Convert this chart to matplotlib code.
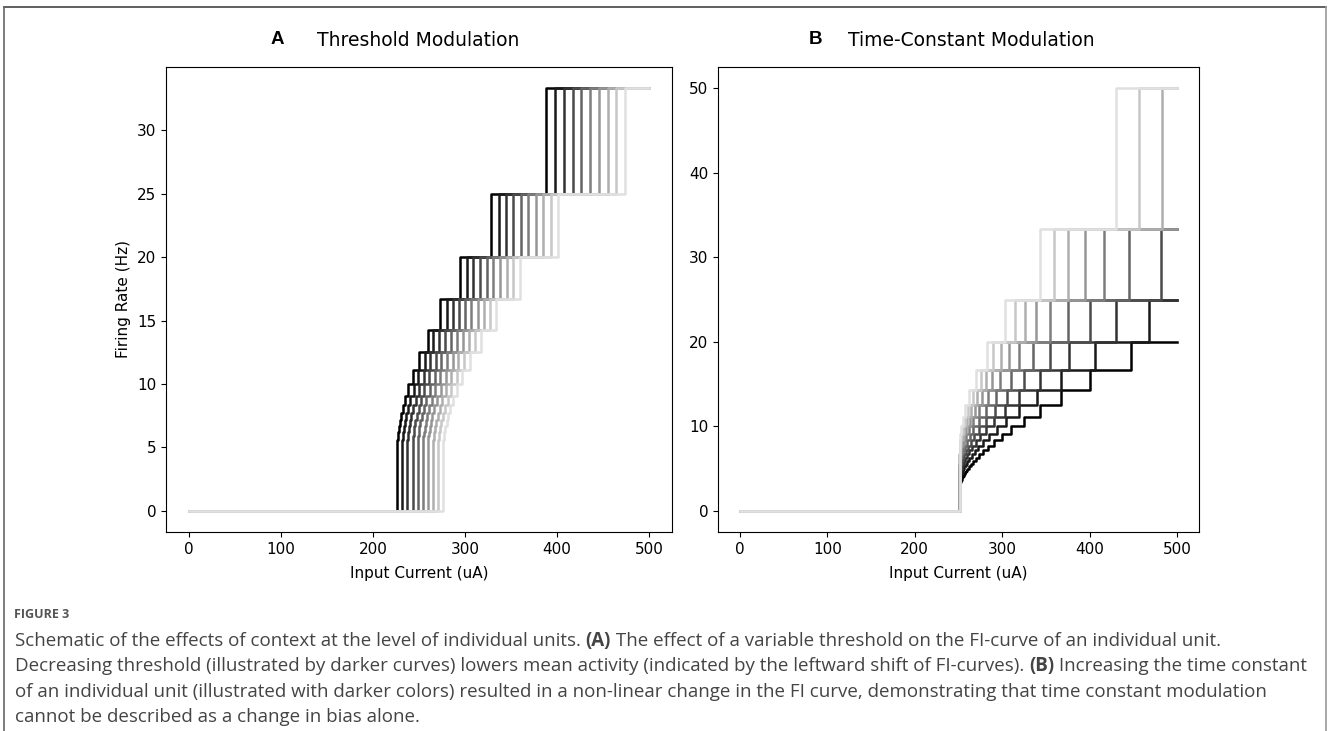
import matplotlib.pyplot as plt
from matplotlib.lines import Line2D

W, H = 1330, 731

# firing-rate levels (Hz) of the step curves
levels_a = [33.33, 25.0, 20.0, 16.67, 14.29, 12.5, 11.11, 10.0, 9.09, 8.33, 7.69, 7.14, 6.67, 6.25, 5.88, 5.56]
levels_b = [50.0, 33.33, 25.0, 20.0, 16.67, 14.29, 12.5, 11.11, 10.0, 9.09, 8.33, 7.69, 7.14, 6.67, 6.25, 5.88,
            5.56, 5.26, 5.0, 4.76, 4.55, 4.35, 4.17, 4.0, 3.85, 3.7, 3.57, 3.45, 3.33, 3.23, 3.13, 3.03, 2.94]

# A: input current (uA) where each level starts, one row per threshold (low -> high)
onsets_a = [
    [388.1, 328.3, 294.4, 273.2, 259.3, 249.7, 243.0, 238.2, 234.8, 232.2, 230.4, 229.0, 228.0, 227.2, 226.7, 226.2],
    [397.7, 336.5, 301.7, 280.0, 265.7, 256.0, 249.1, 244.2, 240.6, 238.0, 236.1, 234.7, 233.7, 232.9, 232.3, 231.9],
    [407.2, 344.5, 308.9, 286.7, 272.1, 262.1, 255.0, 250.0, 246.4, 243.7, 241.7, 240.3, 239.2, 238.4, 237.8, 237.4],
    [416.9, 352.7, 316.2, 293.5, 278.5, 268.3, 261.1, 255.9, 252.2, 249.5, 247.5, 246.0, 244.9, 244.1, 243.5, 243.0],
    [426.3, 360.7, 323.4, 300.2, 284.9, 274.4, 267.0, 261.7, 257.9, 255.2, 253.1, 251.6, 250.5, 249.6, 249.0, 248.6],
    [436.0, 368.9, 330.8, 307.0, 291.3, 280.6, 273.1, 267.7, 263.8, 260.9, 258.8, 257.3, 256.2, 255.3, 254.7, 254.2],
    [445.5, 376.9, 338.0, 313.7, 297.7, 286.7, 279.0, 273.5, 269.5, 266.6, 264.5, 262.9, 261.7, 260.9, 260.2, 259.7],
    [455.1, 385.1, 345.3, 320.5, 304.1, 292.9, 285.0, 279.4, 275.4, 272.4, 270.2, 268.6, 267.4, 266.5, 265.9, 265.4],
    [464.6, 393.1, 352.5, 327.2, 310.5, 299.0, 291.0, 285.3, 281.1, 278.1, 275.8, 274.2, 273.0, 272.1, 271.4, 270.9],
    [474.3, 401.3, 359.8, 334.0, 316.9, 305.2, 297.0, 291.2, 286.9, 283.8, 281.6, 279.9, 278.6, 277.7, 277.0, 276.5],
]

# B: same, one row per time constant (short -> long); None = level not reached
onsets_b = [
    [430.4, 343.1, 303.3, 282.1, 269.9, 262.5, 258.0, 255.1, 253.3, 252.1, 251.4],
    [456.4, 359.2, 314.3, 289.9, 275.5, 266.6, 260.9, 257.2, 254.8, 253.2, 252.2, 251.4],
    [482.6, 375.7, 325.6, 298.1, 281.5, 271.1, 264.3, 259.7, 256.7, 254.6, 253.2, 252.2, 251.5, 251.1],
    [None, 394.7, 338.9, 307.8, 288.8, 276.6, 268.5, 263.0, 259.1, 256.5, 254.6, 253.3, 252.3, 251.7, 251.2],
    [None, 416.4, 354.2, 319.2, 297.5, 283.3, 273.7, 267.0, 262.3, 259.0, 256.5, 254.8, 253.5, 252.6, 251.9,
     251.4, 251.0],
    [None, 445.3, 374.9, 334.8, 309.5, 292.8, 281.2, 273.0, 267.1, 262.8, 259.6, 257.2, 255.5, 254.1, 253.1,
     252.4, 251.8, 251.4, 251.0],
    [None, 481.0, 400.7, 354.4, 324.9, 305.1, 291.2, 281.1, 273.7, 268.2, 264.0, 260.9, 258.4, 256.6, 255.1,
     254.0, 253.1, 252.4, 251.9, 251.5, 251.2],
    [None, None, 429.8, 376.8, 342.7, 319.5, 303.0, 291.0, 281.9, 275.0, 269.7, 265.6, 262.4, 259.9, 257.9,
     256.3, 255.1, 254.0, 253.2, 252.6, 252.1, 251.7, 251.3, 251.1],
    [None, None, 468.3, 406.6, 366.7, 339.2, 319.4, 304.7, 293.5, 284.9, 278.2, 272.8, 268.6, 265.1, 262.4,
     260.1, 258.3, 256.8, 255.6, 254.6, 253.8, 253.1, 252.6, 252.1, 251.8, 251.5, 251.2, 251.0],
    [None, None, None, 447.8, 400.1, 366.9, 342.7, 324.6, 310.6, 299.7, 291.0, 283.9, 278.2, 273.6, 269.7,
     266.6, 263.9, 261.7, 259.9, 258.4, 257.1, 256.0, 255.1, 254.3, 253.6, 253.1, 252.6, 252.2, 251.9, 251.6,
     251.3, 251.1, 251.0],
]

x_max = 500
x_ticks = [0, 100, 200, 300, 400, 500]


def box(x0, y0, x1, y1):
    # pixel box -> figure fraction
    return [x0 / W, 1 - y1 / H, (x1 - x0) / W, (y1 - y0) / H]


def fi_curve(ax, onsets, levels, color):
    pts = sorted((o, l) for o, l in zip(onsets, levels) if o is not None)
    xs = [0] + [p[0] for p in pts] + [x_max]
    ys = [0] + [p[1] for p in pts] + [pts[-1][1]]
    ax.plot(xs, ys, drawstyle='steps-post', color=color, lw=1.8)


fig = plt.figure(figsize=(W / 100, H / 100), dpi=100)
ax_a = fig.add_axes(box(166, 67, 672, 532))
ax_b = fig.add_axes(box(718, 67, 1199, 532))

n = len(onsets_a)
greys = [str(round(0.88 * i / (n - 1), 3)) for i in range(n)]   # black -> light grey

# darker curves drawn first, lighter on top
for i, row in enumerate(onsets_a):
    fi_curve(ax_a, row, levels_a, greys[i])
for i, row in enumerate(onsets_b[::-1]):
    fi_curve(ax_b, row, levels_b, greys[i])

for ax in (ax_a, ax_b):
    ax.set_xticks(x_ticks)
    ax.tick_params(labelsize=11)
    ax.set_xlabel('Input Current (uA)', fontsize=11, labelpad=7)
ax_a.set_yticks([0, 5, 10, 15, 20, 25, 30])
ax_a.set_ylabel('Firing Rate (Hz)', fontsize=11)

# panel titles
ty = 1 - 40 / H
fig.text(277 / W, ty, 'A', fontsize=13.5, fontweight='bold', family='Liberation Sans', ha='center', va='center')
fig.text(317 / W, ty, 'Threshold Modulation', fontsize=13.5, ha='left', va='center')
fig.text(816 / W, ty, 'B', fontsize=13.5, fontweight='bold', family='Liberation Sans', ha='center', va='center')
fig.text(848 / W, ty, 'Time-Constant Modulation', fontsize=13.5, ha='left', va='center')

# frame of the figure block
for x0, y0, x1, y1, c in [(4, 7, 1326, 7, '#444444'), (4, 7, 4, 731, '#666666'),
                          (1326, 7, 1326, 731, '#999999')]:
    fig.add_artist(Line2D([x0 / W, x1 / W], [1 - y0 / H, 1 - y1 / H], color=c, lw=1.2,
                          transform=fig.transFigure))

# caption
fig.text(14 / W, 1 - 615 / H, 'FIGURE 3', fontsize=9, fontweight='bold', family='Open Sans',
         color='#555555', va='center')
caption = [
    [('Schematic of the effects of context at the level of individual units. ', False), ('(A)', True),
     (' The effect of a variable threshold on the FI-curve of an individual unit.', False)],
    [('Decreasing threshold (illustrated by darker curves) lowers mean activity (indicated by the leftward '
      'shift of FI-curves). ', False), ('(B)', True), (' Increasing the time constant', False)],
    [('of an individual unit (illustrated with darker colors) resulted in a non-linear change in the FI curve, '
      'demonstrating that time constant modulation', False)],
    [('cannot be described as a change in bias alone.', False)],
]
cap_y = [641, 666, 692, 717]

renderer = fig.canvas.get_renderer()
probe = fig.text(0, 0, caption[2][0][0], fontsize=12, family='Open Sans')
cap_size = 12 * 1250 / probe.get_window_extent(renderer).width
probe.remove()

for runs, y in zip(caption, cap_y):
    x = 15
    for s, bold in runs:
        t = fig.text(x / W, 1 - y / H, s, fontsize=cap_size, family='Open Sans', color='#444444',
                     fontweight='bold' if bold else 'normal', va='center')
        x += t.get_window_extent(renderer).width

fig.savefig('out.png')
